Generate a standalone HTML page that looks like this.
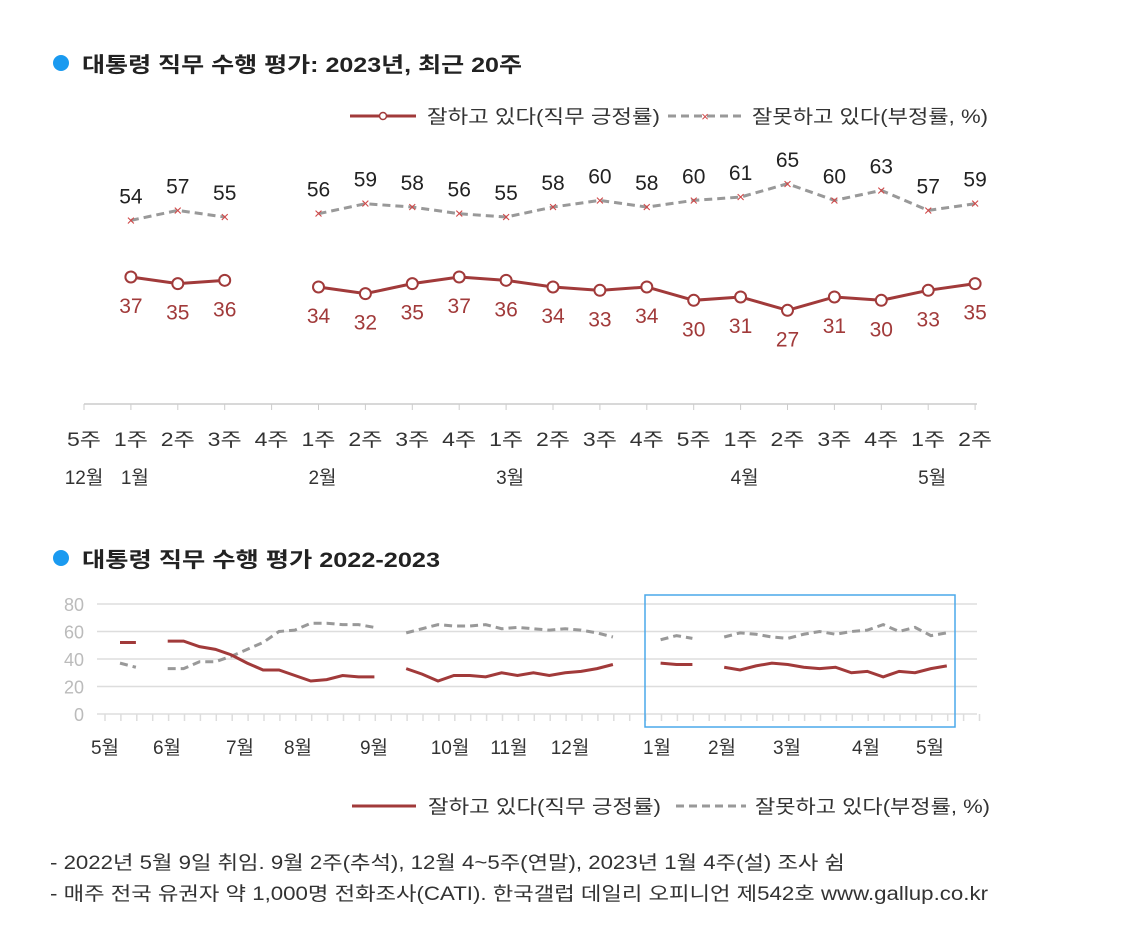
<!DOCTYPE html>
<html><head><meta charset="utf-8">
<style>
html,body{margin:0;padding:0;background:#fff;}
body{width:1140px;height:920px;overflow:hidden;font-family:"Liberation Sans","Noto Sans CJK KR",sans-serif;}
svg text{font-family:"Liberation Sans","Noto Sans CJK KR",sans-serif;}
</style></head>
<body>
<svg id="chart" width="1140" height="920" viewBox="0 0 1140 920" xmlns="http://www.w3.org/2000/svg">
  <g>
    <circle cx="61" cy="63" r="8" fill="#1a9af0"/>
    <text x="82" y="72" font-size="21" font-weight="bold" fill="#222" textLength="440" lengthAdjust="spacingAndGlyphs">대통령 직무 수행 평가: 2023년, 최근 20주</text>
  </g>
  <g>
    <line x1="350" y1="116" x2="416" y2="116" stroke="#a13a3a" stroke-width="3"/>
    <circle cx="383" cy="116" r="3.5" fill="#fff" stroke="#a13a3a" stroke-width="1.5"/>
    <text x="427" y="123" font-size="19" fill="#333" textLength="233" lengthAdjust="spacingAndGlyphs">잘하고 있다(직무 긍정률)</text>
    <line x1="668" y1="116" x2="742" y2="116" stroke="#999" stroke-width="3" stroke-dasharray="8,5"/>
    <text x="705" y="121" font-size="13" fill="#d04848" text-anchor="middle">×</text>
    <text x="752" y="123" font-size="19" fill="#333" textLength="236" lengthAdjust="spacingAndGlyphs">잘못하고 있다(부정률, %)</text>
  </g>
  <g id="topg"></g>
  <g>
    <circle cx="61" cy="558" r="8" fill="#1a9af0"/>
    <text x="82" y="567" font-size="21" font-weight="bold" fill="#222" textLength="358" lengthAdjust="spacingAndGlyphs">대통령 직무 수행 평가 2022-2023</text>
  </g>
  <g id="botg"></g>
  <rect x="645" y="595" width="310" height="132" fill="none" stroke="#4aa8ea" stroke-width="1.5"/>
  <g>
    <line x1="352" y1="806" x2="416" y2="806" stroke="#a13a3a" stroke-width="3"/>
    <text x="428" y="813" font-size="19" fill="#333" textLength="233" lengthAdjust="spacingAndGlyphs">잘하고 있다(직무 긍정률)</text>
    <line x1="676" y1="806" x2="746" y2="806" stroke="#999" stroke-width="3" stroke-dasharray="8,5"/>
    <text x="755" y="813" font-size="19" fill="#333" textLength="235" lengthAdjust="spacingAndGlyphs">잘못하고 있다(부정률, %)</text>
  </g>
  <text x="50" y="869" font-size="19" fill="#333" textLength="795" lengthAdjust="spacingAndGlyphs">- 2022년 5월 9일 취임. 9월 2주(추석), 12월 4~5주(연말), 2023년 1월 4주(설) 조사 쉼</text>
  <text x="50" y="900" font-size="19" fill="#333" textLength="938" lengthAdjust="spacingAndGlyphs">- 매주 전국 유권자 약 1,000명 전화조사(CATI). 한국갤럽 데일리 오피니언 제542호 www.gallup.co.kr</text>
</svg>
<script>
const NS="http://www.w3.org/2000/svg";
// ---- top chart data ----
const topWeeks=["5주","1주","2주","3주","4주","1주","2주","3주","4주","1주","2주","3주","4주","5주","1주","2주","3주","4주","1주","2주"];
const topMonths=[[0,"12월"],[1,"1월"],[5,"2월"],[9,"3월"],[14,"4월"],[18,"5월"]];
const topPos=[null,37,35,36,null,34,32,35,37,36,34,33,34,30,31,27,31,30,33,35];
const topNeg=[null,54,57,55,null,56,59,58,56,55,58,60,58,60,61,65,60,63,57,59];
// ---- bottom chart data ----
const botPos=[52,52,null,53,53,49,47,43,37,32,32,28,24,25,28,27,27,null,33,29,24,28,28,27,30,28,30,28,30,31,33,36,null,null,37,36,36,null,34,32,35,37,36,34,33,34,30,31,27,31,30,33,35];
const botNeg=[37,34,null,33,33,38,38,42,47,52,60,61,66,66,65,65,63,null,59,62,65,64,64,65,62,63,62,61,62,61,59,56,null,null,54,57,55,null,56,59,58,56,55,58,60,58,60,61,65,60,63,57,59];
const botTicks=[0,20,40,60,80];
const botMonths=[["5월",105],["6월",167],["7월",240],["8월",298],["9월",374],["10월",450],["11월",509],["12월",570],["1월",657],["2월",722],["3월",787],["4월",866],["5월",930]];

function mk(parent,tag,attrs){const e=document.createElementNS(NS,tag);for(const k in attrs)e.setAttribute(k,attrs[k]);parent.appendChild(e);return e;}
function segs(vals){const out=[];let cur=[];vals.forEach((v,i)=>{if(v==null){if(cur.length)out.push(cur);cur=[];}else cur.push([i,v]);});if(cur.length)out.push(cur);return out;}

// top
const tg=document.getElementById('topg');
const tx=i=>84+i*46.9, ty=v=>400.2-3.33*v;
const ax=mk(tg,'line',{x1:84,y1:404,x2:977,y2:404,stroke:'#ccc','stroke-width':1.5});


topWeeks.forEach((w,i)=>{
  const t=mk(tg,'line',{x1:tx(i),y1:404,x2:tx(i),y2:410,stroke:'#ccc'});
  
  
  const l=mk(tg,'text',{x:tx(i),y:446,'font-size':19,fill:'#333','text-anchor':'middle',textLength:34,lengthAdjust:'spacingAndGlyphs'});l.textContent=w;
  
  
});
topMonths.forEach(m=>{const l=mk(tg,'text',{x:tx(m[0])+(m[0]==0?0:4),y:484,'font-size':19,fill:'#333','text-anchor':'middle'});l.textContent=m[1];
  
  });
segs(topNeg).forEach(s=>{const p=mk(tg,'polyline',{points:s.map(d=>tx(d[0])+','+ty(d[1])).join(' '),fill:'none',stroke:'#999','stroke-width':3,'stroke-dasharray':'8,5'});
  
  });
segs(topPos).forEach(s=>{const p=mk(tg,'polyline',{points:s.map(d=>tx(d[0])+','+ty(d[1])).join(' '),fill:'none',stroke:'#a13a3a','stroke-width':3});
  
  });
topNeg.forEach((v,i)=>{if(v==null)return;
  const m=mk(tg,'text',{x:tx(i),y:ty(v)+5,'font-size':15,fill:'#d04848','text-anchor':'middle'});m.textContent='×';
  
  
  const l=mk(tg,'text',{x:tx(i),y:ty(v)-17,'font-size':21,fill:'#222','text-anchor':'middle'});l.textContent=v;
  
  });
topPos.forEach((v,i)=>{if(v==null)return;
  const c=mk(tg,'circle',{cx:tx(i),cy:ty(v),r:5.5,fill:'#fff',stroke:'#a13a3a','stroke-width':2});
  
  
  const l=mk(tg,'text',{x:tx(i),y:ty(v)+36,'font-size':21,fill:'#a13a3a','text-anchor':'middle'});l.textContent=v;
  
  });

// bottom
const bg=document.getElementById('botg');
const bx=i=>120+i*15.9, by=v=>714-1.375*v;
botTicks.forEach(t=>{
  const g=mk(bg,'line',{x1:97,y1:by(t),x2:977,y2:by(t),stroke:'#ddd','stroke-width':1.5});
  
  
  const l=mk(bg,'text',{x:84,y:by(t)+7,'font-size':18,fill:'#bbb','text-anchor':'end'});l.textContent=t;
  
  
});
for(let j=0;j<56;j++){const t=mk(bg,'line',{x1:105+j*15.9,y1:714,x2:105+j*15.9,y2:721,stroke:'#ddd','stroke-width':1.5});
  
  }
botMonths.forEach(m=>{const l=mk(bg,'text',{x:m[1],y:754,'font-size':19,fill:'#333','text-anchor':'middle'});l.textContent=m[0];
  
  });
segs(botNeg).forEach(s=>{const p=mk(bg,'polyline',{points:s.map(d=>bx(d[0])+','+by(d[1])).join(' '),fill:'none',stroke:'#999','stroke-width':3,'stroke-dasharray':'8,5'});
  
  });
segs(botPos).forEach(s=>{const p=mk(bg,'polyline',{points:s.map(d=>bx(d[0])+','+by(d[1])).join(' '),fill:'none',stroke:'#a13a3a','stroke-width':3});
  
  });
</script>
</body></html>
